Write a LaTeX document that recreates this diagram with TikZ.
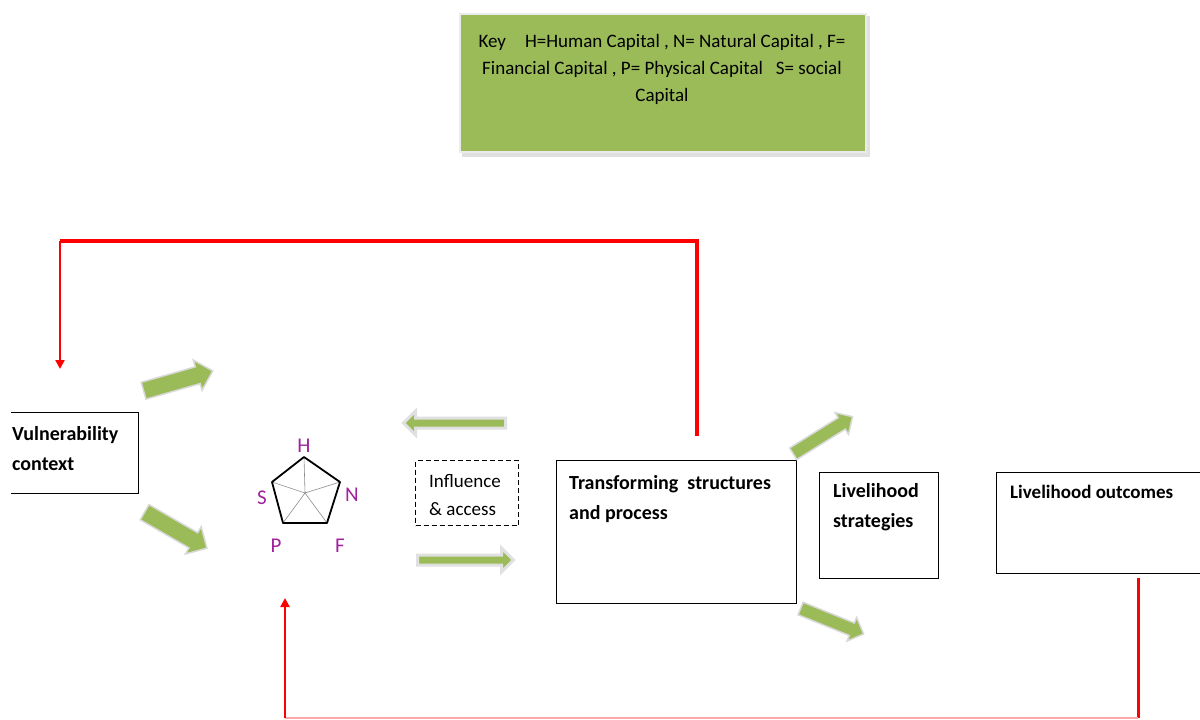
\documentclass[tikz,border=0pt]{standalone}
\usepackage{fontspec}
\setmainfont{Carlito}
\usetikzlibrary{shapes.arrows,arrows.meta}
\definecolor{keygreen}{HTML}{9BBB59}
\definecolor{capv}{HTML}{A0229E}
\definecolor{redline}{HTML}{FF0000}
\tikzset{
  box/.style={draw=black, line width=1.2pt, fill=white, anchor=north west, inner sep=0pt},
  boxtext/.style={font=\fontsize{20}{30}\selectfont\bfseries, align=left, anchor=base west, inner sep=0pt},
  garrow/.style={single arrow, fill=keygreen, draw=black!15, line width=1.5pt, inner xsep=0pt, outer sep=0pt},
  redpath/.style={draw=redline, line width=3.5pt},
  capl/.style={text=capv, font=\fontsize{21}{21}\selectfont},
}
\begin{document}
\begin{tikzpicture}[x=1pt,y=-1pt]
\useasboundingbox (0,0) rectangle (1200,720);
% key
\fill[black!12] (462,16) rectangle (870,157);
\node[draw=black!8, line width=2pt, fill=keygreen, minimum width=406pt, minimum height=138pt, anchor=north west, inner sep=0pt] (key) at (459,13) {};
\node[font=\fontsize{19}{27}\selectfont, align=center, anchor=base, inner sep=0pt] (keytext) at (662,101)
 {Key\quad H=Human Capital , N= Natural Capital , F=\\Financial Capital , P= Physical Capital\ \ \ S= social\\Capital};
% boxes
\node[box, minimum width=128pt, minimum height=81pt] (vul) at (10,412) {};
\draw[white, line width=2pt] (10,410) -- (10,495);
\node[boxtext] (vult) at (12,470) {Vulnerability\\context};
\node[box, dashed, line width=1.2pt, dash pattern=on 5pt off 3pt, minimum width=103pt, minimum height=65pt] (inf) at (415,460) {};
\node[font=\fontsize{19}{28}\selectfont, align=left, anchor=base west, inner sep=0pt] (inft) at (429,515) {Influence\\\& access};
\node[box, minimum width=240pt, minimum height=143pt] (tr) at (556,460) {};
\node[boxtext] (trt) at (569,519) {Transforming\ \ structures\\and process};
\node[box, minimum width=119pt, minimum height=106pt] (ls) at (819,472) {};
\node[boxtext] (lst) at (833,527) {Livelihood\\strategies};
\node[box, minimum width=210pt, minimum height=101pt] (lo) at (996,472) {};
\node[boxtext, font=\fontsize{19}{30}\selectfont\bfseries] (lot) at (1010,498) {Livelihood outcomes};
% pentagon
\coordinate (c) at (305,493);
\coordinate (vH) at (304,457);
\coordinate (vN) at (340,482);
\coordinate (vF) at (327,523);
\coordinate (vP) at (283,523);
\coordinate (vS) at (272,482);
\draw[black!45, line width=0.6pt] (c) -- (vH) (c) -- (vN) (c) -- (vF) (c) -- (vP) (c) -- (vS);
\draw[black, line width=1.8pt, line join=round] (vH) -- (vN) -- (vF) -- (vP) -- (vS) -- cycle;
\node[capl] (lH) at (304,446) {H};
\node[capl] (lN) at (352,495) {N};
\node[capl] (lF) at (340,546) {F};
\node[capl] (lP) at (276,546) {P};
\node[capl] (lS) at (262,498) {S};
% green arrows
\node[garrow, minimum height=72pt, inner ysep=8pt, single arrow head extend=7pt, rotate=16] (a1) at (174,382) {};
\node[garrow, minimum height=72pt, inner ysep=8pt, single arrow head extend=7pt, rotate=-30] (a2) at (172,528) {};
\node[garrow, draw=black!12, line width=3pt, minimum height=102pt, inner ysep=3.5pt, single arrow head extend=7pt, rotate=180] (a3) at (457,423) {};
\node[garrow, draw=black!12, line width=3pt, minimum height=96pt, inner ysep=3.5pt, single arrow head extend=7pt] (a4) at (463,560) {};
\node[garrow, minimum height=70pt, inner ysep=6pt, single arrow head extend=6pt, rotate=32] (a5) at (820,437) {};
\node[garrow, minimum height=68pt, inner ysep=6pt, single arrow head extend=6pt, rotate=-22] (a6) at (829,620) {};
% red feedback lines
\coordinate (r1) at (697,436);
\coordinate (r2) at (697,241);
\coordinate (r3) at (60,241);
\coordinate (r4) at (60,369);
\draw[redpath] (r1) -- (r2) -- (r3);
\draw[draw=redline, line width=2.5pt, -{Triangle[length=9pt,width=9pt]}] (r3) -- (r4);
\coordinate (b1) at (1138,578);
\coordinate (b2) at (1138,718);
\coordinate (b3) at (285,718);
\coordinate (b4) at (285,598);
\draw[redpath, line width=3pt] (b1) -- (b2);
\draw[draw=redline!35, line width=2pt] (b2) -- (b3);
\draw[draw=redline, line width=2.5pt, -{Triangle[length=9pt,width=9pt]}] (b3) -- (b4);
\end{tikzpicture}
\end{document}
